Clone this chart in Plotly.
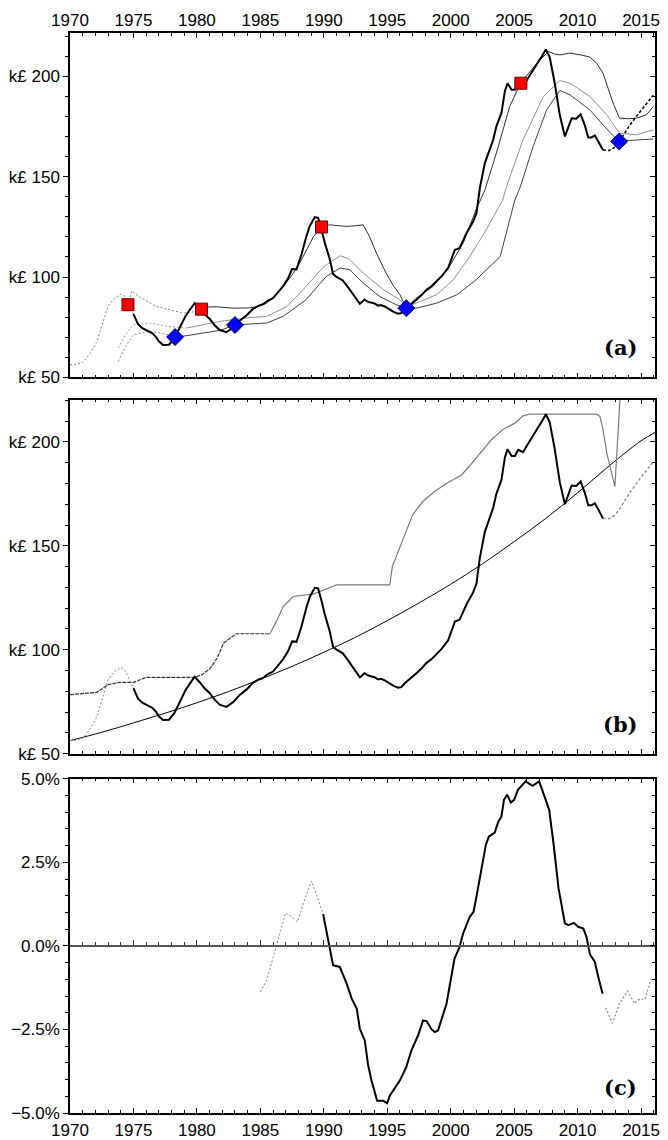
import plotly.graph_objects as go

# ---------------- data ----------------
# Main real house price series (k£), solid black
main_years = [1975.0, 1975.36, 1975.7, 1976.0, 1976.5, 1976.8, 1977.0, 1977.33, 1977.8, 1978.25,
              1978.5, 1978.78, 1979.1, 1979.44, 1979.83, 1980.2, 1980.6, 1981.0, 1981.4, 1981.8,
              1982.33, 1982.85, 1983.4, 1983.9, 1984.4, 1984.8, 1985.2, 1985.6, 1986.0, 1986.4,
              1986.8, 1987.2, 1987.5, 1987.85, 1988.24, 1988.64, 1988.9, 1989.29, 1989.55, 1989.8,
              1990.08, 1990.47, 1990.73, 1991.0, 1991.26, 1991.5, 1991.9, 1992.3, 1992.84, 1993.0,
              1993.2, 1993.5, 1993.76, 1994.0, 1994.28, 1994.5, 1994.8, 1995.2, 1995.5, 1995.86,
              1996.1, 1996.4, 1996.8, 1997.3, 1997.7, 1998.1, 1998.5, 1998.9, 1999.3, 1999.8,
              2000.1, 2000.33, 2000.7, 2001.0, 2001.25, 2001.77, 2002.03, 2002.17, 2002.3, 2002.69,
              2003.0, 2003.35, 2003.6, 2004.0, 2004.27, 2004.48, 2004.8, 2005.06, 2005.32, 2005.7,
              2006.24, 2006.9, 2007.2, 2007.5, 2007.8, 2008.2, 2008.6, 2009.0, 2009.27, 2009.53,
              2009.9, 2010.24, 2010.57, 2010.84, 2011.1, 2011.36, 2011.6, 2012.0]
main_vals = [81.5, 76.5, 74.5, 73.5, 72.0, 70.0, 68.0, 66.2, 66.3, 69.8,
             73.0, 76.5, 80.5, 83.7, 87.0, 84.5, 81.5, 79.2, 76.0, 73.6,
             72.5, 74.8, 78.4, 80.8, 84.0, 85.5, 86.4, 88.3, 89.5, 92.5,
             95.5, 99.5, 104.0, 103.8, 111.2, 120.5, 125.5, 129.8, 129.5, 124.0,
             117.0, 108.8, 101.5, 100.0, 99.0, 98.3, 95.0, 91.2, 86.7, 87.5,
             88.7, 87.6, 87.0, 86.8, 85.7, 86.0, 85.3, 83.7, 82.6, 81.7,
             82.0, 84.0, 86.0, 88.7, 91.0, 93.7, 95.5, 97.8, 100.5, 104.5,
             110.0, 113.6, 114.4, 118.5, 121.9, 127.6, 131.8, 138.4, 144.3, 156.7,
             162.5, 168.3, 175.0, 181.7, 192.5, 196.5, 193.2, 193.2, 196.2, 195.0,
             200.5, 206.8, 210.0, 213.3, 209.5, 196.5, 180.5, 170.0, 174.5, 179.0,
             178.8, 181.0, 175.5, 169.5, 169.5, 170.5, 167.8, 163.2]

# Pre-1975 (dotted grey) part of the series
pre_years = [1970.0, 1970.5, 1971.0, 1971.6, 1972.1, 1972.6, 1973.0, 1973.5, 1974.0, 1974.3, 1974.57, 1975.0]
pre_vals = [56.3, 56.5, 57.5, 62.0, 67.5, 77.0, 85.5, 89.5, 91.5, 90.5, 87.0, 81.5]

# Post-2012 (dashed) part of the series
post_years = [2012.0, 2012.5, 2012.9, 2013.3, 2013.6, 2014.1, 2014.65, 2015.2, 2015.96]
post_vals = [163.2, 163.0, 164.5, 167.5, 170.5, 175.5, 180.1, 184.5, 190.5]

# Panel (a) envelope curves
upper_dot_years = [1974.57, 1974.85, 1975.5, 1976.8, 1978.0, 1978.9, 1979.6, 1980.36]
upper_dot_vals = [86.0, 93.0, 90.0, 85.3, 83.5, 82.0, 82.5, 84.0]
upper_years = [1980.36, 1980.75, 1981.5, 1982.85, 1984.0, 1984.7, 1985.5, 1986.2, 1986.8, 1987.5,
               1988.1, 1988.7, 1989.2, 1989.82, 1990.47, 1991.2, 1991.8, 1992.5, 1993.1, 1993.6,
               1994.15, 1994.9, 1995.5, 1996.0, 1996.5, 1997.3, 1998.6, 1999.9, 2000.98, 2002.0,
               2002.7, 2003.6, 2004.65, 2005.5, 2006.2, 2006.8, 2007.7, 2008.2, 2008.6, 2009.4,
               2010.3, 2010.97, 2011.5, 2012.0, 2012.4, 2012.8, 2013.3, 2014.0, 2014.65, 2015.44, 2015.96]
upper_vals = [84.0, 85.0, 85.2, 84.5, 84.6, 85.0, 87.0, 91.0, 95.3, 101.0,
              106.9, 114.0, 120.2, 124.9, 126.0, 125.5, 125.2, 125.5, 126.0, 120.2,
              111.9, 102.0, 95.5, 91.2, 84.5, 89.5, 95.3, 105.2, 116.9, 133.5,
              143.4, 161.7, 184.9, 196.5, 202.0, 206.5, 212.3, 211.0, 210.6, 211.5,
              210.5, 209.5, 206.5, 201.5, 194.0, 186.6, 179.1, 178.8, 179.1, 180.8, 184.9]
mid_dot_years = [1973.8, 1974.4, 1975.0, 1976.3, 1977.6, 1978.9, 1979.2]
mid_dot_vals = [64.6, 71.5, 76.2, 77.1, 75.5, 74.6, 74.6]
mid_years = [1979.2, 1981.8, 1983.9, 1985.5, 1987.1, 1988.6, 1990.0, 1991.3, 1992.0, 1993.1,
             1994.7, 1996.0, 1996.5, 1997.3, 1998.9, 2000.2, 2001.5, 2002.8, 2004.1, 2004.4,
             2005.7, 2007.3, 2008.6, 2009.4, 2010.97, 2012.3, 2013.3, 2014.65, 2015.96]
mid_vals = [74.6, 77.9, 79.6, 80.4, 85.3, 95.3, 105.2, 110.6, 109.0, 102.0,
            93.7, 88.7, 85.0, 87.0, 91.2, 98.6, 110.2, 123.5, 138.4, 145.0,
            168.3, 189.9, 197.8, 196.5, 189.9, 180.8, 171.6, 170.8, 173.3]
low_dot_years = [1973.8, 1974.4, 1975.0, 1976.3, 1977.4, 1978.28]
low_dot_vals = [58.0, 65.5, 71.3, 72.9, 71.8, 70.1]
low_years = [1978.28, 1979.2, 1981.8, 1983.0, 1985.5, 1986.8, 1988.6, 1990.2, 1991.3, 1992.05,
             1993.1, 1994.4, 1995.7, 1996.5, 1997.3, 1998.9, 2000.5, 2002.0, 2003.9, 2005.06,
             2005.45, 2006.5, 2007.56, 2008.6, 2009.4, 2010.97, 2012.0, 2013.1, 2014.1, 2015.96]
low_vals = [70.1, 70.8, 73.4, 76.1, 77.1, 80.4, 88.7, 100.3, 104.5, 103.6,
            97.0, 90.3, 86.2, 84.5, 84.5, 87.0, 91.2, 98.6, 110.2, 138.4,
            144.3, 165.0, 183.2, 192.9, 190.7, 183.2, 175.8, 168.3, 168.0, 168.7]

peak_years = [1974.57, 1980.36, 1989.82, 2005.53]
peak_vals = [86.2, 84.0, 124.9, 196.5]
trough_years = [1978.28, 1983.0, 1996.5, 2013.28]
trough_vals = [70.1, 76.1, 84.5, 167.5]

# Panel (b)
runmax_dash_years = [1970.0, 1971.0, 1972.1, 1972.6, 1973.0, 1973.9, 1975.0, 1976.0, 1979.8, 1980.4,
                     1981.0, 1981.6, 1982.1, 1983.1, 1985.75]
runmax_dash_vals = [78.4, 78.8, 79.5, 81.5, 83.2, 84.3, 84.3, 86.7, 86.7, 88.0,
                    90.7, 96.0, 103.2, 107.7, 107.7]
runmax_years = [1985.75, 1986.3, 1986.8, 1987.58, 1989.2, 1990.1, 1990.7, 1991.0, 1995.2, 1995.4,
                1996.0, 1996.4, 1997.0, 1997.8, 1998.7, 1999.7, 2000.85, 2001.5, 2002.3, 2003.2,
                2004.14, 2005.06, 2005.7, 2006.2, 2011.5, 2011.77, 2012.0, 2012.3, 2012.94, 2013.45]
runmax_vals = [107.7, 114.0, 120.8, 125.6, 126.9, 128.8, 130.4, 131.2, 131.2, 140.0,
               149.7, 156.0, 164.9, 171.3, 176.0, 180.1, 184.1, 188.5, 194.6, 201.0,
               206.1, 209.0, 212.5, 213.3, 213.3, 212.2, 206.0, 194.6, 178.5, 232.0]
trend_years = [1970.0, 1972.5, 1975.0, 1977.5, 1980.0, 1982.5, 1985.0, 1987.5, 1990.0, 1992.5,
               1995.0, 1997.5, 2000.0, 2002.5, 2005.0, 2007.5, 2010.0, 2012.5, 2015.0, 2016.1]
trend_vals = [56.3, 60.3, 64.8, 69.5, 74.5, 79.9, 85.8, 92.0, 98.8, 106.0,
              114.0, 122.5, 131.5, 141.3, 152.0, 163.2, 175.5, 188.5, 200.5, 204.5]

# Panel (c) growth (%)
gpre_years = [1985.0, 1985.5, 1986.0, 1986.27, 1987.0, 1987.5, 1987.93, 1988.5, 1989.03, 1989.5, 1989.95]
gpre_vals = [-1.38, -1.03, -0.35, 0.0, 0.99, 0.85, 0.72, 1.4, 1.94, 1.45, 0.95]
g_years = [1989.95, 1990.2, 1990.47, 1990.73, 1991.26, 1991.8, 1992.2, 1992.6, 1992.84, 1993.23,
           1993.5, 1993.76, 1994.2, 1994.68, 1994.99, 1995.2, 1995.6, 1995.99, 1996.5, 1996.9,
           1997.43, 1997.82, 1998.1, 1998.5, 1998.75, 1999.0, 1999.67, 2000.06, 2000.3, 2000.7,
           2000.98, 2001.5, 2001.8, 2002.03, 2002.4, 2002.77, 2003.0, 2003.47, 2003.76, 2004.0,
           2004.2, 2004.45, 2004.74, 2005.0, 2005.3, 2005.9, 2006.45, 2006.97, 2007.3, 2007.76,
           2008.1, 2008.5, 2009.0, 2009.3, 2009.7, 2010.05, 2010.45, 2010.7, 2010.97, 2011.36,
           2011.63, 2011.97]
g_vals = [0.95, 0.45, -0.05, -0.58, -0.63, -1.13, -1.58, -1.88, -2.48, -2.83,
          -3.58, -4.03, -4.63, -4.63, -4.71, -4.48, -4.25, -4.03, -3.63, -3.13,
          -2.68, -2.23, -2.25, -2.5, -2.58, -2.53, -1.73, -0.93, -0.38, -0.03,
          0.37, 0.87, 1.02, 1.47, 2.27, 3.02, 3.27, 3.39, 3.72, 3.87,
          4.37, 4.52, 4.29, 4.37, 4.67, 4.92, 4.79, 4.92, 4.57, 4.07,
          3.07, 1.72, 0.67, 0.62, 0.69, 0.57, 0.52, 0.27, -0.25, -0.48,
          -0.93, -1.43]
gpost_years = [2012.2, 2012.76, 2013.3, 2013.94, 2014.5, 2014.9, 2015.3, 2015.8]
gpost_vals = [-1.85, -2.31, -1.73, -1.35, -1.73, -1.58, -1.61, -0.98]

# ---------------- figure ----------------
FONT = "Liberation Sans, Arial, sans-serif"
XR = [1970, 2016.1]
RA = [50, 221.5]
RB = [50, 220.3]
RC = [-5, 5]
DA = [0.6811, 1.0]
DB = [0.3327, 0.6605]
DC = [0.0, 0.3095]

fig = go.Figure()

def line(x, y, xa, ya, color, width, dash="solid", shape="linear"):
    fig.add_trace(go.Scatter(x=x, y=y, xaxis=xa, yaxis=ya, mode="lines",
                             line=dict(color=color, width=width, dash=dash, shape=shape),
                             hoverinfo="skip", showlegend=False))

DOT = "2px,2px"
# panel (a)
line(pre_years, pre_vals, "x", "y", "#8a8a8a", 1, DOT)
line(upper_dot_years, upper_dot_vals, "x", "y", "#8a8a8a", 1, DOT)
line(mid_dot_years, mid_dot_vals, "x", "y", "#a0a0a0", 1, DOT)
line(low_dot_years, low_dot_vals, "x", "y", "#8a8a8a", 1, DOT)
line(upper_years, upper_vals, "x", "y", "#303030", 1)
line(mid_years, mid_vals, "x", "y", "#909090", 1)
line(low_years, low_vals, "x", "y", "#404040", 1)
line(post_years, post_vals, "x", "y", "#000000", 1.5, "3px,2px")
line(main_years, main_vals, "x", "y", "#000000", 2)
fig.add_trace(go.Scatter(x=peak_years, y=peak_vals, xaxis="x", yaxis="y", mode="markers",
                         marker=dict(symbol="square", size=12, color="#ff0000",
                                     line=dict(color="#600000", width=1)),
                         hoverinfo="skip", showlegend=False))
fig.add_trace(go.Scatter(x=trough_years, y=trough_vals, xaxis="x", yaxis="y", mode="markers",
                         marker=dict(symbol="diamond", size=13, color="#0000ff",
                                     line=dict(color="#000040", width=1)),
                         hoverinfo="skip", showlegend=False))

# panel (b)
line(trend_years, trend_vals, "x2", "y2", "#000000", 1, "solid", "spline")
line(runmax_dash_years, runmax_dash_vals, "x2", "y2", "#333333", 1.2, "4px,1px")
line(runmax_years, runmax_vals, "x2", "y2", "#7a7a7a", 1.2)
line(pre_years, pre_vals, "x2", "y2", "#8a8a8a", 1, DOT)
line(post_years, post_vals, "x2", "y2", "#8a8a8a", 1.3, "3px,2px")
line(main_years, main_vals, "x2", "y2", "#000000", 2)

# panel (c)
line(gpre_years, gpre_vals, "x3", "y3", "#8a8a8a", 1, DOT)
line(gpost_years, gpost_vals, "x3", "y3", "#8a8a8a", 1.2, DOT)
line(g_years, g_vals, "x3", "y3", "#000000", 2)

# dummy traces for helper axes
for xa, ya in [("x", "y4"), ("x2", "y5"), ("x3", "y6"), ("x4", "y3")]:
    fig.add_trace(go.Scatter(x=[None], y=[None], xaxis=xa, yaxis=ya, mode="lines",
                             hoverinfo="skip", showlegend=False))

tickfont = dict(family=FONT, size=17, color="black")

def xax(anchor, side, labels):
    return dict(anchor=anchor, side=side, range=XR, domain=[0, 1], tick0=1970, dtick=5,
                ticks="inside", ticklen=5, tickwidth=1, tickcolor="black", automargin=False,
                showline=True, linecolor="black", linewidth=1.5, mirror="ticks",
                showgrid=False, zeroline=False, showticklabels=labels, tickfont=tickfont,
                ticklabelstandoff=-2 if side == "top" else 1,
                minor=dict(tickmode="linear", tick0=1970, dtick=1, ticks="inside", ticklen=3,
                           tickcolor="black", showgrid=False))

def yax(anchor, dom, rng, dtick, mdtick, prefix="", suffix="", fmt=None):
    t0 = rng[0] if rng[0] > 0 else 0
    d = dict(anchor=anchor, domain=dom, range=rng, tick0=t0, dtick=dtick, automargin=False,
             ticks="outside", ticklen=5, tickwidth=1, tickcolor="black",
             showline=True, linecolor="black", linewidth=1.5, mirror=True,
             showgrid=False, zeroline=False, tickfont=tickfont, tickprefix=prefix, ticksuffix=suffix,
             minor=dict(tickmode="linear", tick0=t0, dtick=mdtick,
                        ticks="outside", ticklen=3, tickcolor="black", showgrid=False))
    if fmt:
        d["tickformat"] = fmt
    return d

def yright(over, anchor, dom, rng, dtick, mdtick):
    t0 = rng[0] if rng[0] > 0 else 0
    return dict(overlaying=over, anchor=anchor, side="right", domain=dom, range=rng,
                tick0=t0, dtick=dtick, ticks="inside", ticklen=5, tickcolor="black",
                showticklabels=False, showline=False, showgrid=False, zeroline=False,
                automargin=False,
                minor=dict(tickmode="linear", tick0=t0, dtick=mdtick, ticks="inside", ticklen=3,
                           tickcolor="black", showgrid=False))

zero_pos = DC[0] + (DC[1] - DC[0]) * (0 - RC[0]) / (RC[1] - RC[0])

fig.update_layout(
    template="none",
    width=668, height=1140,
    margin=dict(l=70, r=13, t=33, b=27, autoexpand=False),
    paper_bgcolor="white", plot_bgcolor="white",
    showlegend=False,
    font=dict(family=FONT, size=17, color="black"),
    xaxis=xax("y", "top", True),
    xaxis2=xax("y2", "bottom", False),
    xaxis3=xax("y3", "bottom", True),
    xaxis4=dict(overlaying="x3", anchor="free", position=zero_pos, side="bottom", range=XR,
                tick0=1970, dtick=5, ticks="inside", ticklen=5, tickcolor="#333333",
                showline=True, linecolor="#555555", linewidth=2, showticklabels=False,
                showgrid=False, zeroline=False, automargin=False,
                minor=dict(tickmode="linear", tick0=1970, dtick=1, ticks="inside", ticklen=3,
                           tickcolor="#333333", showgrid=False)),
    yaxis=yax("x", DA, RA, 50, 10, prefix="k£ "),
    yaxis2=yax("x2", DB, RB, 50, 10, prefix="k£ "),
    yaxis3=yax("x3", DC, RC, 2.5, 0.5, suffix="%", fmt=".1f"),
    yaxis4=yright("y", "x", DA, RA, 50, 10),
    yaxis5=yright("y2", "x2", DB, RB, 50, 10),
    yaxis6=yright("y3", "x3", DC, RC, 2.5, 0.5),
)

lab_font = dict(family="DejaVu Serif, Liberation Serif, serif", size=21, color="black")
for txt, xr, yr, yv in [("<b>(a)</b>", "x", "y", 64.8), ("<b>(b)</b>", "x2", "y2", 63.9),
                        ("<b>(c)</b>", "x3", "y3", -4.24)]:
    fig.add_annotation(text=txt, x=2013.35, y=yv, xref=xr, yref=yr, showarrow=False,
                       font=lab_font, xanchor="center", yanchor="middle")

fig.write_html("out.html", config={"displayModeBar": False},
               post_script="document.body.style.margin='0';document.body.style.overflow='hidden';")
